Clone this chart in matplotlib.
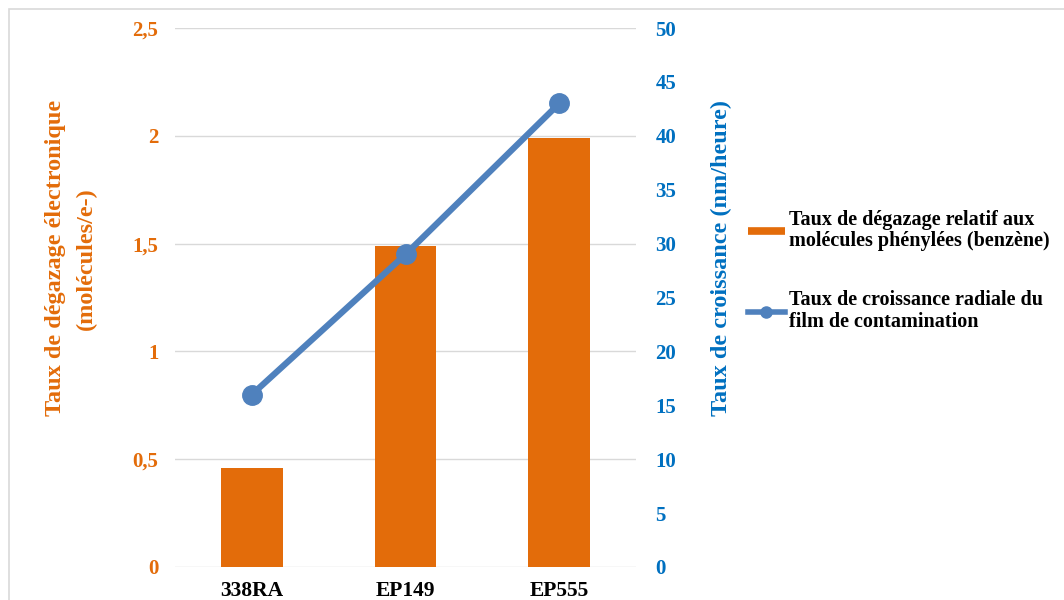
import matplotlib.pyplot as plt
import matplotlib.patches as mpatches
from matplotlib.lines import Line2D
import numpy as np

categories = ['338RA', 'EP149', 'EP555']
degazage = [0.46, 1.49, 1.99]
croissance = [16, 29, 43]

left_ticks = [0, 0.5, 1, 1.5, 2, 2.5]
left_labels = ['0', '0,5', '1', '1,5', '2', '2,5']
right_ticks = [0, 5, 10, 15, 20, 25, 30, 35, 40, 45, 50]

orange = '#E36C0A'
blue_line = '#4F81BD'
blue_text = '#0070C0'

plt.rcParams['font.family'] = 'Liberation Serif'
plt.rcParams['font.weight'] = 'bold'

fig = plt.figure(figsize=(10.64, 6), dpi=100)
fig.patches.append(mpatches.Rectangle((0.008, -0.1), 1.1, 1.085, transform=fig.transFigure,
                                      fill=False, edgecolor='#D9D9D9', linewidth=1.2))
ax = fig.add_axes([0.1645, 0.055, 0.4333, 0.8983])
ax2 = ax.twinx()

x = np.arange(len(categories))
ax.bar(x, degazage, width=0.4, color=orange, zorder=2)
ax2.plot(x, croissance, color=blue_line, linewidth=4.5, marker='o', markersize=14, zorder=3)

ax.set_xlim(-0.5, 2.5)
ax.set_ylim(0, 2.5)
ax2.set_ylim(0, 50)
ax.set_yticks(left_ticks)
ax.set_yticklabels(left_labels)
ax2.set_yticks(right_ticks)
ax.set_xticks(x)
ax.set_xticklabels(categories, fontsize=15.5, fontweight='bold')
ax.grid(axis='y', color='#D9D9D9', linewidth=1, zorder=0)
ax.set_axisbelow(True)

for a in (ax, ax2):
    for s in a.spines.values():
        s.set_visible(False)
    a.tick_params(length=0)

ax.tick_params(axis='y', labelsize=15, labelcolor=orange, pad=12)
ax.tick_params(axis='x', pad=10)
ax2.tick_params(axis='y', labelsize=15, labelcolor=blue_text, pad=14)

ax.set_ylabel('Taux de dégazage électronique\n(molécules/e-)', fontsize=17.5, color=orange,
              fontweight='bold', linespacing=1.6)
ax.yaxis.set_label_coords(-0.169, 0.573)
ax2.set_ylabel('Taux de croissance (nm/heure)', fontsize=17.5, color=blue_text,
               fontweight='bold')
ax2.yaxis.set_label_coords(1.162, 0.573)

handles = [Line2D([], [], color=orange, linewidth=5.5, solid_capstyle='butt'),
           Line2D([], [], color=blue_line, linewidth=4, marker='o', markersize=8)]
labels = ['Taux de dégazage relatif aux\nmolécules phénylées (benzène)',
          'Taux de croissance radiale du\nfilm de contamination']
leg = fig.legend(handles=handles, labels=labels, loc='upper left', bbox_to_anchor=(0.695, 0.664),
                 frameon=False, fontsize=14.5, labelspacing=1.95, handlelength=1.85,
                 handletextpad=0.2, borderaxespad=0)
for t in leg.get_texts():
    t.set_linespacing(1.1)

fig.savefig('out.png', dpi=100)
